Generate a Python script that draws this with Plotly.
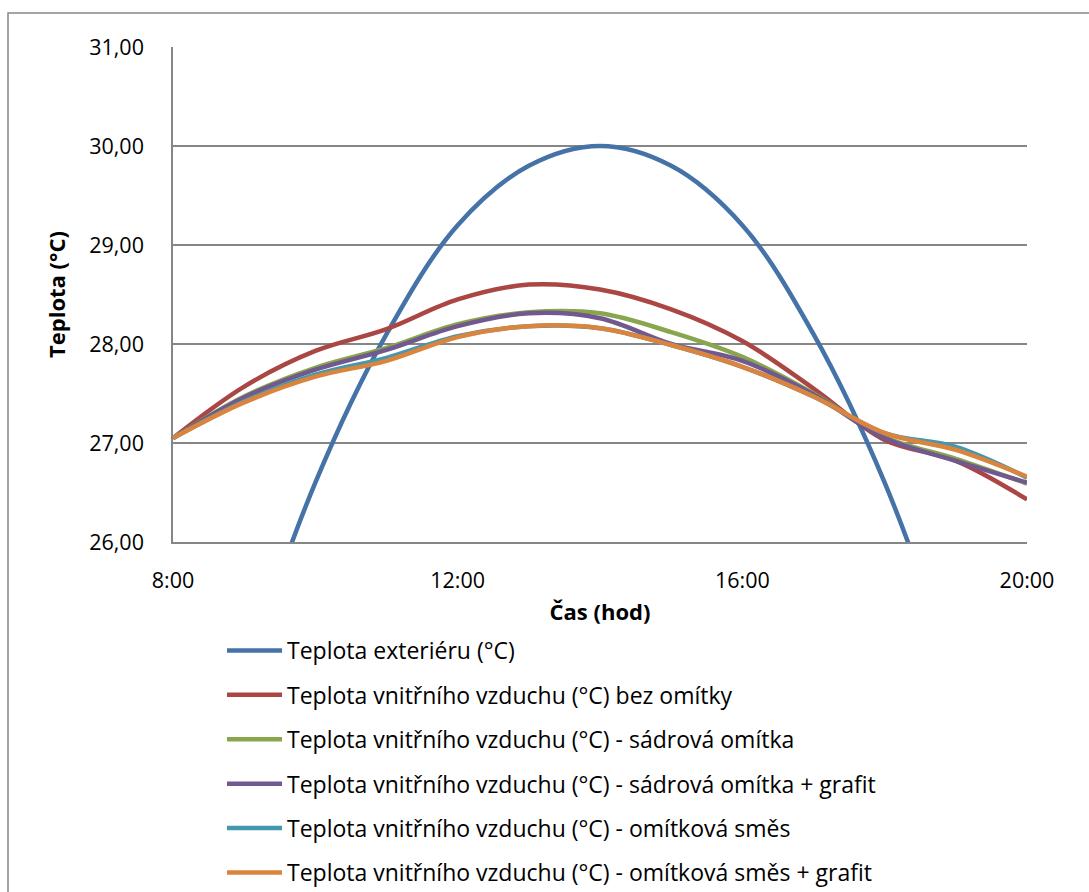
import plotly.graph_objects as go

hours = [8, 9, 10, 11, 12, 13, 14, 15, 16, 17, 18, 19, 20]
tick_vals = [8, 12, 16, 20]
tick_text = ["8:00", "12:00", "16:00", "20:00"]
y_ticks = [26, 27, 28, 29, 30, 31]
y_tick_text = ["26,00", "27,00", "28,00", "29,00", "30,00", "31,00"]

exterier = [22.3, 24.6, 26.6, 28.1, 29.2, 29.8, 30.0, 29.8, 29.2, 28.1, 26.6, 24.6, 22.3]
bez_omitky = [27.05, 27.57, 27.93, 28.15, 28.45, 28.60, 28.55, 28.35, 28.03, 27.55, 27.03, 26.82, 26.43]
sadrova = [27.05, 27.47, 27.76, 27.96, 28.20, 28.32, 28.31, 28.12, 27.87, 27.50, 27.06, 26.84, 26.59]
sadrova_grafit = [27.05, 27.46, 27.74, 27.94, 28.18, 28.31, 28.26, 28.00, 27.83, 27.49, 27.05, 26.82, 26.60]
omitkova = [27.05, 27.42, 27.69, 27.86, 28.08, 28.18, 28.16, 27.99, 27.77, 27.47, 27.10, 26.96, 26.65]
omitkova_grafit = [27.05, 27.41, 27.67, 27.83, 28.07, 28.18, 28.16, 27.99, 27.77, 27.47, 27.10, 26.93, 26.66]

names = [
    "Teplota exteriéru (°C)",
    "Teplota vnitřního vzduchu (°C) bez omítky",
    "Teplota vnitřního vzduchu (°C) - sádrová omítka",
    "Teplota vnitřního vzduchu (°C) - sádrová omítka + grafit",
    "Teplota vnitřního vzduchu (°C) - omítková směs",
    "Teplota vnitřního vzduchu (°C) - omítková směs + grafit",
]
series = [exterier, bez_omitky, sadrova, sadrova_grafit, omitkova, omitkova_grafit]
colors = ["#4572A7", "#AA4643", "#89A54E", "#71588F", "#4198AF", "#DB843D"]

W, H = 1089, 892
L, R, T, B = 173, 1027, 47, 542

fig = go.Figure()
for i, (nm, ys, c) in enumerate(zip(names, series, colors)):
    fig.add_trace(go.Scatter(
        x=hours, y=ys, name=nm, mode="lines",
        line=dict(color=c, width=4.5, shape="spline", smoothing=1.0),
        legendgroup=str(i), showlegend=True,
    ))

font_family = "Open Sans, Noto Sans, Liberation Sans, sans-serif"

fig.update_layout(
    width=W, height=H,
    margin=dict(l=L, r=W - R, t=T, b=H - B, pad=0, autoexpand=False),
    paper_bgcolor="white", plot_bgcolor="white",
    font=dict(family=font_family, size=21.5, color="black"),
    showlegend=True,
    legend=dict(
        x=(222 - L) / (R - L), y=(B - 629) / (B - T),
        xanchor="left", yanchor="top",
        orientation="v", traceorder="grouped",
        itemwidth=55, tracegroupgap=11.5,
        font=dict(size=23, family=font_family),
        bgcolor="rgba(0,0,0,0)",
    ),
    xaxis=dict(
        range=[8, 20], tickvals=tick_vals, ticktext=tick_text,
        showgrid=False, zeroline=False,
        showline=True, linecolor="#868686", linewidth=1.5,
        ticks="", ticklabelstandoff=18,
        title=dict(text="<b>Čas (hod)</b>", standoff=12, font=dict(size=22)),
    ),
    yaxis=dict(
        range=[26, 31], tickvals=y_ticks, ticktext=y_tick_text,
        showgrid=True, gridcolor="#868686", gridwidth=1.5,
        zeroline=False,
        showline=True, linecolor="#868686", linewidth=1.5,
        ticks="", ticklabelstandoff=23,
        title=dict(text="<b>Teplota (°C)</b>", standoff=18, font=dict(size=22)),
    ),
    shapes=[dict(
        type="rect", xref="paper", yref="paper",
        x0=(8 - L) / (R - L), x1=1.3,
        y0=-1.0, y1=1 + (T - 13) / (B - T),
        line=dict(color="#878787", width=1.5), fillcolor="rgba(0,0,0,0)",
        layer="below",
    )],
)

fig.write_html("out.html", config={"displayModeBar": False},
               post_script="document.body.style.margin='0';")
